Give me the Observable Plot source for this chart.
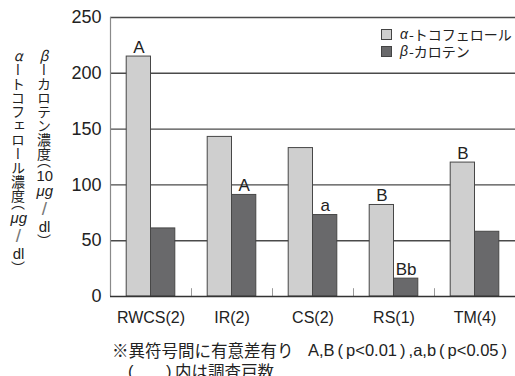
<!DOCTYPE html>
<html>
<head>
<meta charset="utf-8">
<script src="https://cdn.jsdelivr.net/npm/d3@7"></script>
<script src="https://cdn.jsdelivr.net/npm/@observablehq/plot@0.6"></script>
<style>
  body { margin: 0; background: #fff; }
  #chart {
    position: relative; width: 515px; height: 376px; overflow: hidden;
    font-family: "Liberation Sans", "Noto Sans CJK JP", sans-serif; color: #222;
  }
  #chart svg { position: absolute; left: 0; top: 0; }
  .ytitle {
    position: absolute; left: 5px; top: 49px;
    writing-mode: vertical-rl; text-orientation: upright;
    font-size: 14px; line-height: 25px;
    font-family: "Noto Sans CJK JP", sans-serif; white-space: nowrap;
  }
  .ytitle .half { font-feature-settings: "vhal"; }
  .tcy { text-combine-upright: all; font-family: "Liberation Sans", sans-serif; font-size: 15px; }
  .tcy.it { font-style: italic; }
  .slash { font-family: "Liberation Sans", sans-serif; font-size: 19px; color: #777; }
  .legend { position: absolute; left: 381px; top: 26px; font-size: 14px; line-height: 17px; }
  .legend div { display: flex; align-items: center; white-space: nowrap; height: 17px; }
  .legend .sw { width: 9px; height: 9px; border: 1px solid #444; margin-right: 8px; }
  .legend i { margin-right: 1px; }
  .legend .jp { font-family: "Noto Sans CJK JP", sans-serif; }
  .note { position: absolute; white-space: nowrap; line-height: 20px; }
  .note .jp { font-family: "Noto Sans CJK JP", sans-serif; font-size: 16.5px; }
  .note .en { font-size: 16.5px; }
  .note .p { padding: 0 3px; }
</style>
</head>
<body>
<div id="chart"></div>
<script>
// Farm groups (number of households surveyed in parentheses)
const categories = ["RWCS(2)", "IR(2)", "CS(2)", "RS(1)", "TM(4)"];
const seriesNames = ["α-トコフェロール", "β-カロテン"];
// α-tocopherol (μg/dl) and β-carotene (10 μg/dl) concentrations
const alphaTocopherol = [215, 143, 133, 82, 120];
const betaCarotene = [61, 91, 73, 16, 58];
// Significance letters shown above the bars
const alphaLetters = ["A", "", "", "B", "B"];
const betaLetters = ["", "A", "a", "Bb", ""];
const yTicks = [0, 50, 100, 150, 200, 250];

const rows = [];
categories.forEach((c, i) => {
  rows.push({group: c, series: seriesNames[0], value: alphaTocopherol[i], letter: alphaLetters[i]});
  rows.push({group: c, series: seriesNames[1], value: betaCarotene[i], letter: betaLetters[i]});
});
const alphaRows = rows.filter(d => d.series === seriesNames[0]);
const betaRows = rows.filter(d => d.series === seriesNames[1]);

const half = 40.5;   // half of a group band
const gap = 16.2;    // outer gap between band edge and bar pair
const lightFill = "#cfcfcf", darkFill = "#69696b", edge = "#474747";

const chart = Plot.plot({
  width: 515,
  height: 330,
  marginLeft: 110,
  marginRight: 0,
  marginTop: 17,
  marginBottom: 34,
  style: {fontFamily: "'Liberation Sans', 'Noto Sans CJK JP', sans-serif", color: "#222", background: "transparent"},
  x: {domain: categories, padding: 0, label: null},
  y: {domain: [0, 250], ticks: yTicks, label: null},
  marks: [
    Plot.ruleY(yTicks.filter(v => v > 0), {stroke: "#4a4a4a", strokeWidth: 1.4}),
    // light grey separators between groups
    Plot.ruleX(categories.slice(1), {x: d => d, dx: -half, y1: 0, y2: 7, stroke: "#9a9a9a", strokeWidth: 1}),
    Plot.barY(alphaRows, {x: "group", y: "value", fill: lightFill, stroke: edge, strokeWidth: 1,
      insetLeft: gap, insetRight: half}),
    Plot.barY(betaRows, {x: "group", y: "value", fill: darkFill, stroke: edge, strokeWidth: 1,
      insetLeft: half, insetRight: gap}),
    Plot.text(alphaRows.filter(d => d.letter), {x: "group", y: "value", text: "letter",
      dx: -(half - gap) / 2, dy: -4, lineAnchor: "bottom", fontSize: 17, fill: "#222"}),
    Plot.text(betaRows.filter(d => d.letter), {x: "group", y: "value", text: "letter",
      dx: (half - gap) / 2, dy: -4, lineAnchor: "bottom", fontSize: 17, fill: "#222"}),
    // left axis line
    Plot.ruleX([categories[0]], {x: d => d, dx: -half, y1: 0, y2: 250, stroke: "#8a8a8a", strokeWidth: 1.2}),
    // baseline
    Plot.ruleY([0], {stroke: "#333", strokeWidth: 1.4}),
    Plot.axisY({ticks: yTicks, tickSize: 0, tickPadding: 9, fontSize: 18, label: null}),
    Plot.axisX({tickSize: 0, tickPadding: 15, fontSize: 16, label: null})
  ]
});

const root = document.getElementById("chart");
root.appendChild(chart);

// vertical axis title (two columns, right column read first)
const title = document.createElement("div");
title.className = "ytitle";
title.innerHTML =
  '<i>β</i>ーカロテン濃度<span class="half">（</span><span class="tcy">10</span><span class="tcy it">μg</span><span class="slash">/</span><span class="tcy">dl</span><span class="half">）</span><br>' +
  '<i>α</i>ートコフェロール濃度<span class="half">（</span><span class="tcy it">μg</span><span class="slash">/</span><span class="tcy">dl</span><span class="half">）</span>';
root.appendChild(title);

// legend
const legend = document.createElement("div");
legend.className = "legend";
[lightFill, darkFill].forEach((col, i) => {
  const row = document.createElement("div");
  const name = seriesNames[i];
  row.innerHTML = `<span class="sw" style="background:${col}"></span><i>${name[0]}</i><span class="jp">${name.slice(1)}</span>`;
  legend.appendChild(row);
});
root.appendChild(legend);

// footnotes
const n1 = document.createElement("div");
n1.className = "note";
n1.style.left = "112px"; n1.style.top = "340px";
n1.innerHTML = '<span class="jp">※異符号間に有意差有り</span>' +
  '<span class="en" style="position:absolute;left:196px">A,B<span class="p">(</span>p&lt;0.01<span class="p">)</span>,a,b<span class="p">(</span>p&lt;0.05<span class="p">)</span></span>';
root.appendChild(n1);

const n2 = document.createElement("div");
n2.className = "note";
n2.style.left = "0px"; n2.style.top = "361px";
n2.innerHTML = '<span class="en" style="position:absolute;left:128px">(</span>' +
  '<span class="en" style="position:absolute;left:166px">)</span>' +
  '<span class="jp" style="position:absolute;left:175px">内は調査戸数</span>';
root.appendChild(n2);
</script>
</body>
</html>
